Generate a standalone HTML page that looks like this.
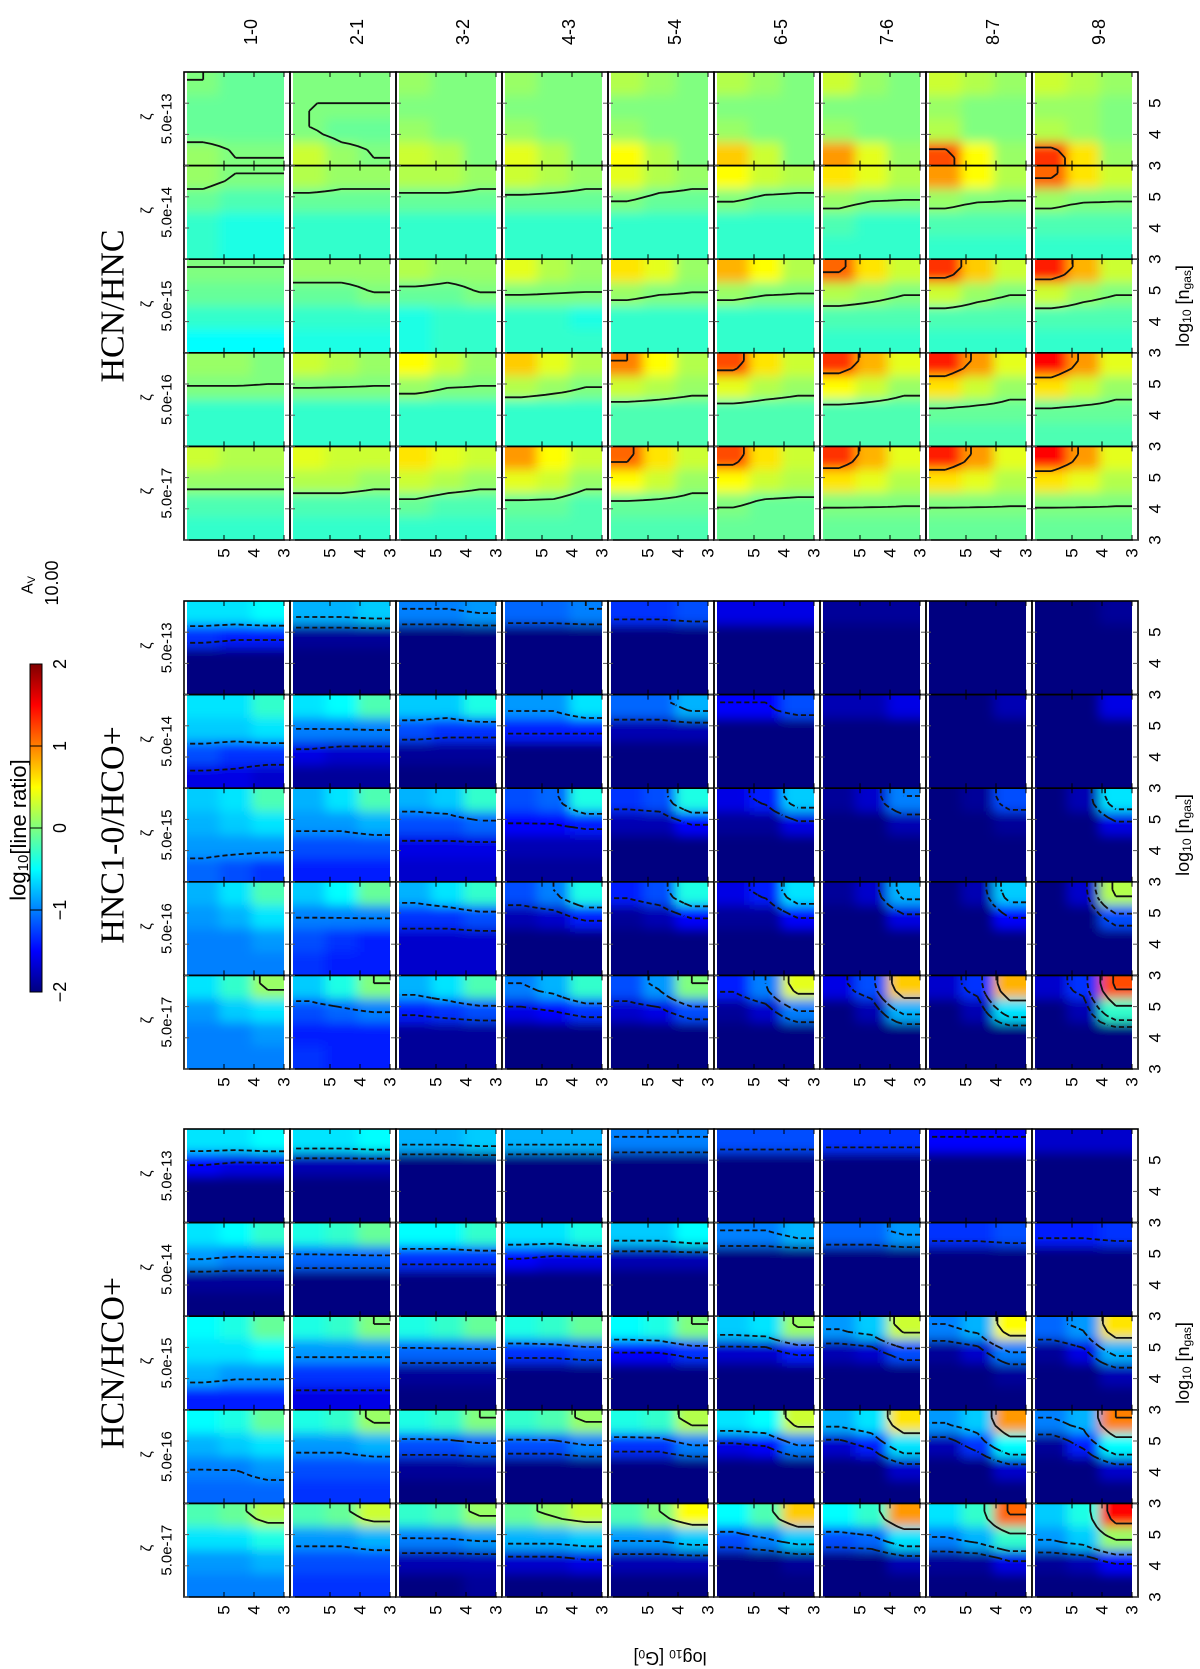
<!DOCTYPE html>
<html><head><meta charset="utf-8">
<style>
html,body{margin:0;padding:0;background:#fff;}
svg{display:block;font-family:"Liberation Sans",sans-serif;}
</style></head>
<body>
<svg id="fig" width="1200" height="1669" viewBox="0 0 1200 1669" xmlns="http://www.w3.org/2000/svg">
<defs>
<filter id="blur" x="-30%" y="-30%" width="160%" height="160%"><feGaussianBlur stdDeviation="5.5"/></filter>
<linearGradient id="jetgrad" x1="0" y1="1" x2="0" y2="0">
<stop offset="0" stop-color="#00007f"/><stop offset="0.125" stop-color="#0000ff"/>
<stop offset="0.375" stop-color="#00ffff"/><stop offset="0.5" stop-color="#7fff7f"/>
<stop offset="0.625" stop-color="#ffff00"/><stop offset="0.875" stop-color="#ff0000"/><stop offset="1" stop-color="#7f0000"/>
</linearGradient>
</defs>
<g id="cells"></g>
<g id="contours"></g>
<g id="frames"></g>
<g id="labels"></g>
</svg>
<script>
// transitions, cosmic-ray rates, panel titles
const transitions = ["1-0","2-1","3-2","4-3","5-4","6-5","7-6","8-7","9-8"];
const zetaLabels = ["5.0e-17","5.0e-16","5.0e-15","5.0e-14","5.0e-13"];
const panelTitles = ["HCN/HNC","HNC1-0/HCO+","HCN/HCO+"];
const g0Ticks = [5,4,3];
const ngasTicks = [5,4,3];
const cbarTicks = [-2,-1,0,1,2];
const contourLevels = [-1.5,-1,0,1];
// each cell: 4 rows (n_gas high -> low) x 3 cols (G0 high -> low), log10 ratio
const panelA = [ // HCN/HCO+
[[-0.2,-0.1,0.2,-0.6,-0.6,-0.4,-0.9,-0.9,-0.8,-1.0,-1.0,-1.0],[-0.5,-0.4,-0.1,-0.8,-0.7,-0.6,-1.0,-1.0,-0.9,-1.1,-1.1,-1.1],[-0.5,-0.4,-0.1,-0.6,-0.6,-0.5,-0.8,-0.9,-0.9,-1.4,-1.4,-1.4],[-0.6,-0.5,-0.3,-0.9,-1.0,-1.0,-1.9,-1.9,-1.9,-2,-2,-2],[-0.6,-0.6,-0.5,-1.5,-1.6,-1.6,-2,-2,-2,-2,-2,-2]],
[[-0.2,-0.1,0.3,-0.9,-0.9,-0.8,-1.2,-1.2,-1.2,-1.3,-1.3,-1.3],[-0.4,-0.3,0.1,-0.9,-0.9,-0.8,-1.2,-1.2,-1.2,-1.3,-1.3,-1.3],[-0.4,-0.3,0.0,-0.9,-0.9,-0.9,-1.3,-1.3,-1.3,-1.6,-1.6,-1.6],[-0.4,-0.3,-0.1,-1.1,-1.1,-1.1,-2,-2,-2,-2,-2,-2],[-0.6,-0.6,-0.5,-1.8,-1.8,-1.8,-2,-2,-2,-2,-2,-2]],
[[-0.3,-0.2,0.1,-1.0,-1.0,-0.9,-1.8,-1.8,-1.8,-2,-2,-1.9],[-0.4,-0.3,0.0,-1.2,-1.2,-1.1,-1.9,-1.9,-1.9,-2,-2,-2],[-0.4,-0.3,-0.1,-1.1,-1.1,-1.1,-1.9,-1.9,-1.9,-2,-2,-2],[-0.5,-0.5,-0.3,-1.3,-1.3,-1.3,-2,-2,-2,-2,-2,-2],[-0.8,-0.8,-0.7,-2,-2,-2,-2,-2,-2,-2,-2,-2]],
[[-0.1,0.1,0.3,-0.8,-0.8,-0.7,-1.7,-1.7,-1.6,-2,-2,-2],[-0.3,-0.2,0.1,-1.2,-1.2,-1.0,-2,-2,-2,-2,-2,-2],[-0.4,-0.3,-0.1,-1.3,-1.3,-1.2,-2,-2,-2,-2,-2,-2],[-0.6,-0.6,-0.4,-1.5,-1.6,-1.6,-2,-2,-2,-2,-2,-2],[-0.8,-0.8,-0.8,-2,-2,-2,-2,-2,-2,-2,-2,-2]],
[[-0.2,0.0,0.5,-0.9,-0.9,-0.7,-1.8,-1.8,-1.8,-2,-2,-2],[-0.4,-0.3,0.2,-1.3,-1.3,-1.0,-2,-2,-2,-2,-2,-2],[-0.5,-0.4,0.0,-1.5,-1.5,-1.3,-2,-2,-2,-2,-2,-2],[-0.7,-0.7,-0.5,-1.8,-1.8,-1.8,-2,-2,-2,-2,-2,-2],[-1.0,-1.0,-1.0,-2,-2,-2,-2,-2,-2,-2,-2,-2]],
[[-0.5,-0.2,0.7,-1.2,-1.0,-0.7,-2,-2,-1.9,-2,-2,-2],[-0.6,-0.5,0.3,-1.6,-1.5,-1.0,-2,-2,-2,-2,-2,-2],[-0.7,-0.6,0.1,-1.7,-1.7,-1.4,-2,-2,-2,-2,-2,-2],[-1.0,-1.0,-0.8,-2,-2,-2,-2,-2,-2,-2,-2,-2],[-1.2,-1.2,-1.2,-2,-2,-2,-2,-2,-2,-2,-2,-2]],
[[-0.5,-0.3,0.9,-1.2,-1.1,-0.6,-2,-2,-1.8,-2,-2,-2],[-0.8,-0.6,0.6,-1.7,-1.4,-0.6,-2,-2,-1.7,-2,-2,-2],[-0.9,-0.7,0.3,-1.8,-1.7,-1.2,-2,-2,-2,-2,-2,-2],[-1.1,-1.1,-0.9,-2,-2,-2,-2,-2,-2,-2,-2,-2],[-1.3,-1.3,-1.3,-2,-2,-2,-2,-2,-2,-2,-2,-2]],
[[-0.6,-0.3,1.1,-1.0,-0.8,-0.3,-1.9,-1.9,-1.6,-2,-2,-2],[-0.9,-0.7,0.9,-1.8,-1.3,-0.5,-2,-2,-1.7,-2,-2,-2],[-1.0,-0.8,0.5,-1.9,-1.7,-1.0,-2,-2,-1.9,-2,-2,-2],[-1.3,-1.3,-1.2,-2,-2,-2,-2,-2,-2,-2,-2,-2],[-1.5,-1.5,-1.5,-2,-2,-2,-2,-2,-2,-2,-2,-2]],
[[-0.7,-0.4,1.5,-0.9,-0.7,0.1,-1.9,-1.8,-1.5,-2,-2,-2],[-1.0,-0.8,1.0,-1.9,-1.4,-0.5,-2,-2,-1.7,-2,-2,-2],[-1.1,-0.9,0.6,-1.9,-1.6,-0.8,-2,-2,-1.8,-2,-2,-2],[-1.4,-1.4,-1.3,-2,-2,-2,-2,-2,-2,-2,-2,-2],[-1.7,-1.7,-1.7,-2,-2,-2,-2,-2,-2,-2,-2,-2]]
];
const panelB = [ // HNC1-0/HCO+
[[-0.6,-0.3,0.1,-0.9,-0.7,-0.6,-1.0,-1.0,-0.9,-1.0,-1.0,-1.0],[-0.8,-0.6,-0.2,-0.9,-0.8,-0.6,-1.0,-1.0,-0.9,-1.0,-1.0,-1.0],[-0.7,-0.6,-0.2,-0.8,-0.7,-0.6,-0.9,-0.9,-0.9,-1.1,-1.2,-1.3],[-0.6,-0.6,-0.3,-0.7,-0.7,-0.6,-1.2,-1.3,-1.3,-1.6,-1.6,-1.7],[-0.6,-0.6,-0.5,-1.3,-1.4,-1.4,-2,-2,-2,-2,-2,-2]],
[[-0.7,-0.4,0.0,-1.2,-1.1,-1.0,-1.4,-1.4,-1.4,-1.3,-1.4,-1.4],[-0.7,-0.5,-0.1,-1.0,-1.0,-1.0,-1.2,-1.3,-1.4,-1.3,-1.4,-1.4],[-0.8,-0.6,-0.2,-0.9,-0.9,-0.8,-1.2,-1.2,-1.2,-1.4,-1.4,-1.4],[-0.6,-0.5,-0.2,-1.0,-1.0,-1.0,-1.6,-1.7,-1.7,-1.9,-1.9,-1.9],[-0.8,-0.8,-0.7,-1.9,-1.9,-1.9,-2,-2,-2,-2,-2,-2]],
[[-0.8,-0.6,-0.2,-1.4,-1.3,-1.2,-1.9,-1.9,-1.9,-1.9,-1.9,-1.9],[-0.8,-0.6,-0.3,-1.3,-1.3,-1.2,-1.7,-1.7,-1.7,-1.7,-1.7,-1.7],[-0.8,-0.7,-0.3,-1.2,-1.2,-1.1,-1.6,-1.6,-1.6,-1.7,-1.7,-1.7],[-0.7,-0.7,-0.4,-1.2,-1.3,-1.3,-1.9,-1.9,-1.9,-2,-2,-2],[-1.0,-1.0,-0.9,-2,-2,-2,-2,-2,-2,-2,-2,-2]],
[[-1.0,-0.8,-0.3,-1.6,-1.5,-1.3,-2,-2,-2,-2,-2,-2],[-1.2,-1.0,-0.4,-1.8,-1.7,-1.4,-2,-2,-2,-2,-2,-2],[-1.2,-1.1,-0.4,-1.5,-1.5,-1.4,-1.8,-1.8,-1.8,-1.9,-1.9,-1.9],[-0.9,-0.9,-0.6,-1.4,-1.4,-1.4,-2,-2,-2,-2,-2,-2],[-1.1,-1.1,-1.0,-2,-2,-2,-2,-2,-2,-2,-2,-2]],
[[-1.2,-0.9,0.0,-1.7,-1.6,-1.2,-2,-2,-2,-2,-2,-2],[-1.4,-1.2,-0.4,-1.9,-1.8,-1.5,-2,-2,-2,-2,-2,-2],[-1.3,-1.2,-0.4,-1.8,-1.8,-1.5,-2,-2,-2,-2,-2,-2],[-1.1,-1.1,-0.8,-1.8,-1.8,-1.8,-2,-2,-2,-2,-2,-2],[-1.3,-1.3,-1.2,-2,-2,-2,-2,-2,-2,-2,-2,-2]],
[[-1.4,-1.0,0.4,-1.9,-1.7,-1.0,-2,-2,-2,-2,-2,-2],[-1.6,-1.4,-0.6,-1.9,-1.9,-1.5,-2,-2,-2,-2,-2,-2],[-1.6,-1.4,-0.7,-1.9,-1.9,-1.6,-2,-2,-2,-2,-2,-2],[-1.5,-1.5,-1.2,-2,-2,-2,-2,-2,-2,-2,-2,-2],[-1.6,-1.6,-1.6,-2,-2,-2,-2,-2,-2,-2,-2,-2]],
[[-1.6,-1.2,0.7,-2,-1.8,-0.8,-2,-2,-2,-2,-2,-2],[-1.9,-1.7,-0.8,-2,-2,-1.6,-2,-2,-2,-2,-2,-2],[-1.9,-1.7,-1.0,-2,-2,-1.8,-2,-2,-2,-2,-2,-2],[-1.8,-1.8,-1.6,-2,-2,-2,-2,-2,-2,-2,-2,-2],[-1.9,-1.9,-1.9,-2,-2,-2,-2,-2,-2,-2,-2,-2]],
[[-1.7,-1.3,0.8,-2,-1.8,-0.6,-2,-2,-2,-2,-2,-2],[-2,-1.8,-0.7,-2,-2,-1.5,-2,-2,-2,-2,-2,-2],[-2,-1.9,-1.2,-2,-2,-1.9,-2,-2,-2,-2,-2,-2],[-2,-2,-1.8,-2,-2,-2,-2,-2,-2,-2,-2,-2],[-2,-2,-2,-2,-2,-2,-2,-2,-2,-2,-2,-2]],
[[-1.7,-1.3,1.2,-2,-1.8,-0.3,-2,-2,-2,-2,-2,-2],[-2,-1.7,0.2,-2,-2,-1.2,-2,-2,-2,-2,-2,-2],[-2,-1.8,-0.6,-2,-2,-1.6,-2,-2,-2,-2,-2,-2],[-2,-2,-1.6,-2,-2,-2,-2,-2,-2,-2,-2,-2],[-2,-2,-1.9,-2,-2,-2,-2,-2,-2,-2,-2,-2]]
];
const panelC = [ // HCN/HNC
[[0.3,0.2,0.2,0.1,0.1,0.1,-0.2,-0.2,-0.2,-0.3,-0.3,-0.3],[0.1,0.1,0.0,0.0,0.0,0.0,-0.3,-0.3,-0.3,-0.3,-0.3,-0.3],[0.0,0.0,0.0,-0.1,-0.1,-0.1,-0.3,-0.3,-0.3,-0.5,-0.5,-0.5],[0.1,0.0,0.0,-0.1,-0.2,-0.2,-0.3,-0.4,-0.4,-0.3,-0.4,-0.4],[0.0,-0.1,-0.1,-0.1,-0.1,-0.1,-0.1,-0.1,-0.1,0.1,0.0,0.0]],
[[0.4,0.3,0.3,0.2,0.2,0.1,-0.2,-0.2,-0.2,-0.3,-0.3,-0.3],[0.3,0.2,0.1,0.0,0.0,0.0,-0.3,-0.3,-0.3,-0.3,-0.3,-0.3],[0.1,0.1,0.1,-0.1,-0.1,0.0,-0.3,-0.3,-0.3,-0.4,-0.4,-0.4],[0.2,0.1,0.1,-0.1,-0.1,-0.1,-0.3,-0.3,-0.3,-0.3,-0.3,-0.3],[0.0,0.0,0.0,0.0,0.0,0.0,0.0,-0.1,-0.1,0.3,0.1,0.0]],
[[0.6,0.4,0.3,0.3,0.2,0.1,-0.1,-0.2,-0.2,-0.3,-0.3,-0.3],[0.5,0.3,0.1,0.1,0.0,0.0,-0.3,-0.3,-0.3,-0.3,-0.3,-0.3],[0.2,0.1,0.1,-0.1,-0.1,0.0,-0.4,-0.3,-0.3,-0.4,-0.3,-0.3],[0.2,0.2,0.1,-0.1,-0.1,-0.1,-0.3,-0.3,-0.3,-0.3,-0.3,-0.3],[0.1,0.0,0.0,0.0,0.0,0.0,0.1,0.0,0.0,0.3,0.2,0.0]],
[[0.9,0.5,0.3,0.4,0.3,0.1,-0.1,-0.1,-0.2,-0.2,-0.2,-0.2],[0.7,0.4,0.2,0.2,0.1,0.0,-0.3,-0.3,-0.3,-0.3,-0.3,-0.3],[0.4,0.2,0.1,0.0,0.0,0.0,-0.3,-0.3,-0.4,-0.3,-0.3,-0.3],[0.3,0.2,0.1,-0.1,-0.1,-0.1,-0.3,-0.3,-0.3,-0.3,-0.3,-0.3],[0.1,0.0,0.0,0.0,0.0,0.0,0.1,0.0,0.0,0.4,0.2,0.0]],
[[1.1,0.6,0.3,0.5,0.3,0.1,-0.1,-0.1,-0.1,-0.2,-0.2,-0.2],[1.0,0.5,0.2,0.3,0.2,0.1,-0.2,-0.2,-0.2,-0.2,-0.2,-0.2],[0.6,0.4,0.1,0.1,0.0,0.0,-0.3,-0.3,-0.3,-0.3,-0.3,-0.3],[0.4,0.2,0.1,0.0,-0.1,-0.1,-0.3,-0.3,-0.3,-0.3,-0.3,-0.3],[0.2,0.1,0.0,0.0,0.0,0.0,0.1,0.0,0.0,0.5,0.2,0.0]],
[[1.2,0.6,0.3,0.5,0.3,0.2,0.0,-0.1,-0.1,-0.1,-0.1,-0.1],[1.2,0.6,0.3,0.4,0.2,0.1,-0.2,-0.2,-0.2,-0.2,-0.2,-0.2],[0.8,0.5,0.2,0.1,0.0,0.0,-0.3,-0.3,-0.3,-0.3,-0.3,-0.3],[0.5,0.3,0.2,0.0,-0.1,-0.1,-0.3,-0.3,-0.3,-0.3,-0.3,-0.3],[0.2,0.1,0.0,0.0,0.0,0.0,0.1,0.0,0.0,0.7,0.3,0.0]],
[[1.3,0.8,0.4,0.6,0.4,0.2,0.0,0.0,0.0,-0.1,-0.1,-0.1],[1.3,0.8,0.4,0.5,0.3,0.1,-0.2,-0.2,-0.2,-0.2,-0.2,-0.2],[1.1,0.6,0.3,0.2,0.1,0.0,-0.2,-0.2,-0.2,-0.3,-0.3,-0.3],[0.6,0.4,0.2,0.1,0.0,0.0,-0.2,-0.3,-0.3,-0.3,-0.3,-0.3],[0.3,0.1,0.0,0.0,0.0,0.0,0.1,0.0,0.0,0.9,0.4,0.1]],
[[1.4,0.9,0.4,0.6,0.4,0.2,0.0,0.0,0.0,-0.1,-0.1,-0.1],[1.4,0.9,0.4,0.6,0.3,0.1,-0.1,-0.1,-0.1,-0.2,-0.2,-0.2],[1.3,0.7,0.3,0.3,0.1,0.0,-0.2,-0.2,-0.2,-0.3,-0.3,-0.3],[0.9,0.5,0.2,0.1,0.0,0.0,-0.2,-0.2,-0.2,-0.3,-0.3,-0.3],[0.3,0.2,0.1,0.1,0.0,0.0,0.2,0.0,0.0,1.2,0.5,0.1]],
[[1.5,0.9,0.4,0.6,0.4,0.2,0.0,0.0,0.0,-0.1,-0.1,-0.1],[1.5,0.9,0.4,0.6,0.3,0.1,-0.1,-0.1,-0.1,-0.2,-0.2,-0.2],[1.4,0.8,0.3,0.3,0.1,0.0,-0.2,-0.2,-0.2,-0.3,-0.3,-0.3],[1.1,0.6,0.3,0.1,0.0,0.0,-0.2,-0.2,-0.2,-0.3,-0.3,-0.3],[0.3,0.2,0.1,0.1,0.1,0.0,0.2,0.1,0.0,1.3,0.6,0.1]]
];
const panels = [panelC, panelB, panelA];

const NS = "http://www.w3.org/2000/svg";
const X0 = 184, COLW = 106, CELLH = 93.6;
const panelTop = [72, 601, 1129];
const cellsG = document.getElementById('cells');
const contG = document.getElementById('contours');
const framesG = document.getElementById('frames');
const labelsG = document.getElementById('labels');

function mk(tag, attrs, parent){ const e=document.createElementNS(NS,tag); for(const k in attrs) e.setAttribute(k,attrs[k]); parent.appendChild(e); return e; }
function clamp(v){ return Math.max(0,Math.min(1,v)); }
function jet(v){
  const t = clamp((v+2)/4);
  const r=clamp(1.5-Math.abs(4*t-3)), g=clamp(1.5-Math.abs(4*t-2)), b=clamp(1.5-Math.abs(4*t-1));
  return `rgb(${Math.round(r*255)},${Math.round(g*255)},${Math.round(b*255)})`;
}
function g0x(v){ return 100 - (v-3)*30; }
function ngy(v){ return CELLH - (v-3)*31.2; }
function rotText(str, x, y, size, parent, family, name, rot){
  const t = mk('text', {x:x, y:y, 'font-size':size, 'text-anchor':'middle', 'dominant-baseline':'central',
    transform:`rotate(${rot===undefined?-90:rot} ${x} ${y})`}, parent);
  if(family) t.setAttribute('font-family', family);
  t.textContent = str;
  
  
  return t;
}
// value field sampler (for contour drawing)
function sample(vals, u, v, cw, rh){
  let fx = Math.max(0, Math.min(2, u/cw - 0.5));
  let fy = Math.max(0, Math.min(3, v/rh - 0.5));
  const c0 = Math.min(1, Math.floor(fx)), r0 = Math.min(2, Math.floor(fy));
  const tx = fx - c0, ty = fy - r0;
  const a = vals[r0*3+c0], b = vals[r0*3+c0+1], c = vals[(r0+1)*3+c0], d = vals[(r0+1)*3+c0+1];
  return a*(1-tx)*(1-ty) + b*tx*(1-ty) + c*(1-tx)*ty + d*tx*ty;
}
function contourPath(vals, ix, iy, iw, ih, level){
  const NX = 13, NY = 13, dx = iw/(NX-1), dy = ih/(NY-1), cw = iw/3, rh = ih/4;
  const F = [];
  for (let r=0;r<NY;r++){ F.push([]); for(let c=0;c<NX;c++) F[r].push(sample(vals, c*dx, r*dy, cw, rh)); }
  let d = '';
  const interp = (x1,y1,v1,x2,y2,v2) => { const t=(level-v1)/(v2-v1); return [x1+(x2-x1)*t, y1+(y2-y1)*t]; };
  for (let r=0;r<NY-1;r++) for (let c=0;c<NX-1;c++){
    const x=ix+c*dx, y=iy+r*dy;
    const v0=F[r][c], v1=F[r][c+1], v2=F[r+1][c+1], v3=F[r+1][c];
    const pts=[];
    if ((v0<level)!==(v1<level)) pts.push(interp(x,y,v0,x+dx,y,v1));
    if ((v1<level)!==(v2<level)) pts.push(interp(x+dx,y,v1,x+dx,y+dy,v2));
    if ((v3<level)!==(v2<level)) pts.push(interp(x,y+dy,v3,x+dx,y+dy,v2));
    if ((v0<level)!==(v3<level)) pts.push(interp(x,y,v0,x,y+dy,v3));
    for (let i=0;i+1<pts.length;i+=2) d += `M${pts[i][0].toFixed(1)},${pts[i][1].toFixed(1)}L${pts[i+1][0].toFixed(1)},${pts[i+1][1].toFixed(1)}`;
  }
  return d;
}

let clipId = 0;
panels.forEach((pdata, p) => {
  const top = panelTop[p];
  for (let j = 0; j < transitions.length; j++) {
    const x0 = X0 + j*COLW;
    for (let k = 0; k < zetaLabels.length; k++) {
      const y0 = top + (4-k)*CELLH;
      const vals = pdata[j][k];
      const ix = x0+3, iw = 97, iy = y0, ih = CELLH;
      const cid = 'c'+(clipId++);
      const cp = mk('clipPath', {id:cid}, cellsG);
      mk('rect', {x:ix, y:iy, width:iw, height:ih}, cp);
      const outer = mk('g', {'clip-path':`url(#${cid})`}, cellsG);
      
      
      const inner = mk('g', {filter:'url(#blur)'}, outer);
      const cw = iw/3, rh = ih/4, ext = 16;
      for (let r = 0; r < 4; r++) for (let c = 0; c < 3; c++) {
        let rx = ix + c*cw, ry = iy + r*rh, rw = cw, rhh = rh;
        if (c===0){ rx -= ext; rw += ext; } if (c===2){ rw += ext; }
        if (r===0){ ry -= ext; rhh += ext; } if (r===3){ rhh += ext; }
        const rect = mk('rect', {x:rx, y:ry, width:rw+0.5, height:rhh+0.5, fill:jet(vals[r*3+c])}, inner);
        
        
      }
      // contour lines (negative levels dashed)
      contourLevels.forEach(lv => {
        const d = contourPath(vals, ix, iy, iw, ih, lv);
        if (!d) return;
        const path = mk('path', {d:d, fill:'none', stroke:'#111', 'stroke-width':1.8, 'stroke-linecap':'butt'}, contG);
        if (lv < 0) path.setAttribute('stroke-dasharray', '5 3');
        
        
      });
      const fr = mk('rect', {x:x0, y:y0, width:COLW, height:CELLH, fill:'none', stroke:'#000', 'stroke-width':1.6}, framesG);
      
      
      g0Ticks.forEach(v => {
        mk('line', {x1:x0+g0x(v), y1:y0, x2:x0+g0x(v), y2:y0+5, stroke:'#000', 'stroke-width':1}, framesG);
        mk('line', {x1:x0+g0x(v), y1:y0+CELLH, x2:x0+g0x(v), y2:y0+CELLH-5, stroke:'#000', 'stroke-width':1}, framesG);
      });
      ngasTicks.forEach(v => {
        mk('line', {x1:x0, y1:y0+ngy(v), x2:x0+5, y2:y0+ngy(v), stroke:'#555', 'stroke-width':1}, framesG);
        mk('line', {x1:x0+COLW, y1:y0+ngy(v), x2:x0+COLW-5, y2:y0+ngy(v), stroke:'#555', 'stroke-width':1}, framesG);
      });
    }
    g0Ticks.forEach(v => rotText(String(v), x0+g0x(v), top+5*CELLH+13, 17, labelsG, null, 'g0-tick-label'));
  }
  for (let k = 0; k < zetaLabels.length; k++) {
    const y0 = top + (4-k)*CELLH;
    rotText('ζ', 147, y0+CELLH/2-2, 15, labelsG, null, 'zeta-symbol');
    rotText(zetaLabels[k], 167, y0+CELLH/2, 15, labelsG, null, 'zeta-label');
    ngasTicks.forEach(v => rotText(String(v), 1155, y0+ngy(v), 17, labelsG, null, 'ngas-tick-label'));
  }
  rotText(panelTitles[p], 113, top+2.5*CELLH, 34, labelsG, '"Liberation Serif", serif', 'panel-title');
  const nl = mk('text', {x:1183, y:top+2.5*CELLH, 'font-size':18, 'text-anchor':'middle', 'dominant-baseline':'central',
    transform:`rotate(-90 1183 ${top+2.5*CELLH})`}, labelsG);
  
  
  nl.innerHTML = 'log<tspan font-size="12" dy="4">10</tspan><tspan dy="-4"> [n</tspan><tspan font-size="12" dy="4">gas</tspan><tspan dy="-4">]</tspan>';
});
transitions.forEach((t, j) => rotText(t, X0 + j*COLW + 67, 32, 18, labelsG, null, 'transition-label'));

// colorbar
const cbTop = 664, cbBot = 992, cbX = 30, cbW = 12;
function cby(v){ return cbBot - (v+2)/4*(cbBot-cbTop); }
const cb = mk('rect', {x:cbX, y:cbTop, width:cbW, height:cbBot-cbTop, fill:'url(#jetgrad)', stroke:'#000', 'stroke-width':1}, labelsG);


cbarTicks.forEach(v => {
  mk('line', {x1:cbX, y1:cby(v), x2:cbX+cbW, y2:cby(v), stroke:'#000', 'stroke-width':1}, labelsG);
  rotText(v<0 ? '\u2212'+Math.abs(v) : String(v), 60, cby(v), 18, labelsG, null, 'colorbar-tick-label');
});
const cbl = mk('text', {x:18, y:830, 'font-size':22, 'text-anchor':'middle', 'dominant-baseline':'central', transform:'rotate(-90 18 830)'}, labelsG);


cbl.innerHTML = 'log<tspan font-size="15" dy="5">10</tspan><tspan dy="-5">[line ratio]</tspan>';
const av = mk('text', {x:28, y:585, 'font-size':16, 'text-anchor':'middle', 'dominant-baseline':'central', transform:'rotate(-90 28 585)'}, labelsG);


av.innerHTML = 'A<tspan font-size="11" dy="4">V</tspan>';
rotText('10.00', 52, 583, 18, labelsG, null, 'av-value');
const gl = mk('text', {x:670, y:1658, 'font-size':18, 'text-anchor':'middle', 'dominant-baseline':'central', transform:'rotate(180 670 1658)'}, labelsG);


gl.innerHTML = 'log<tspan font-size="12" dy="4">10</tspan><tspan dy="-4"> [G</tspan><tspan font-size="12" dy="4">0</tspan><tspan dy="-4">]</tspan>';
</script>
</body></html>
